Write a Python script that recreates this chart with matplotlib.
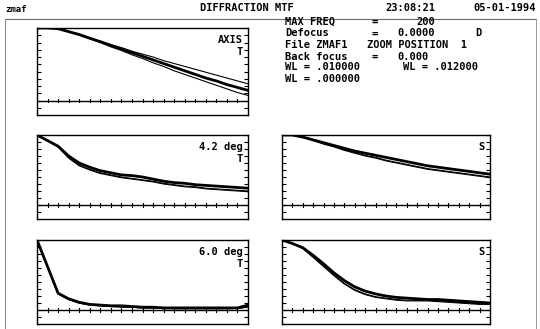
import matplotlib
matplotlib.use("Agg")
import matplotlib.pyplot as plt
import numpy as np

# ---------------- data ----------------
freq = [0, 10, 20, 30, 40, 50, 60, 70, 80, 90, 100, 110, 120, 130, 140, 150, 160, 170, 180, 190, 200]

axis_t_upper = [1.00, 1.00, 0.99, 0.95, 0.91, 0.86, 0.82, 0.77, 0.73, 0.68, 0.64, 0.60, 0.55, 0.51, 0.47, 0.43, 0.39, 0.35, 0.31, 0.27, 0.23]
axis_t_thick = [1.00, 1.00, 0.99, 0.95, 0.91, 0.86, 0.81, 0.76, 0.71, 0.66, 0.61, 0.56, 0.51, 0.46, 0.41, 0.36, 0.31, 0.27, 0.22, 0.18, 0.14]
axis_t_lower = [1.00, 1.00, 0.99, 0.95, 0.90, 0.85, 0.80, 0.74, 0.69, 0.63, 0.58, 0.52, 0.47, 0.41, 0.36, 0.31, 0.26, 0.21, 0.16, 0.11, 0.07]

d42_t_thick = [1.00, 0.92, 0.84, 0.70, 0.60, 0.54, 0.49, 0.46, 0.43, 0.42, 0.40, 0.37, 0.34, 0.32, 0.31, 0.29, 0.28, 0.27, 0.26, 0.25, 0.24]
d42_t_thin1 = [1.00, 0.92, 0.83, 0.68, 0.57, 0.51, 0.46, 0.43, 0.40, 0.38, 0.36, 0.34, 0.31, 0.29, 0.27, 0.26, 0.24, 0.23, 0.22, 0.21, 0.20]
d42_t_thin2 = [1.00, 0.92, 0.83, 0.67, 0.56, 0.50, 0.45, 0.42, 0.39, 0.37, 0.35, 0.33, 0.30, 0.28, 0.26, 0.25, 0.23, 0.22, 0.21, 0.20, 0.19]

d42_s_thick = [1.00, 1.00, 0.97, 0.93, 0.89, 0.85, 0.81, 0.77, 0.74, 0.71, 0.68, 0.65, 0.62, 0.59, 0.56, 0.54, 0.52, 0.50, 0.48, 0.46, 0.44]
d42_s_thin1 = [1.00, 1.00, 0.97, 0.93, 0.88, 0.84, 0.79, 0.75, 0.71, 0.68, 0.64, 0.61, 0.58, 0.55, 0.52, 0.50, 0.48, 0.46, 0.44, 0.42, 0.40]
d42_s_thin2 = [1.00, 1.00, 0.97, 0.92, 0.87, 0.83, 0.78, 0.74, 0.70, 0.67, 0.63, 0.60, 0.57, 0.54, 0.51, 0.49, 0.47, 0.45, 0.43, 0.41, 0.39]

d60_t_thick = [1.00, 0.62, 0.24, 0.16, 0.11, 0.08, 0.07, 0.06, 0.06, 0.05, 0.04, 0.04, 0.03, 0.03, 0.03, 0.03, 0.03, 0.03, 0.03, 0.03, 0.07]
d60_t_thin1 = [1.00, 0.62, 0.23, 0.15, 0.10, 0.08, 0.06, 0.05, 0.05, 0.04, 0.03, 0.03, 0.03, 0.02, 0.02, 0.02, 0.02, 0.02, 0.02, 0.03, 0.05]
d60_t_thin2 = [1.00, 0.62, 0.23, 0.15, 0.10, 0.07, 0.06, 0.05, 0.04, 0.04, 0.03, 0.03, 0.02, 0.02, 0.02, 0.02, 0.02, 0.02, 0.02, 0.02, 0.04]

d60_s_thick = [1.00, 0.95, 0.89, 0.78, 0.66, 0.53, 0.42, 0.33, 0.27, 0.23, 0.20, 0.18, 0.17, 0.16, 0.15, 0.15, 0.14, 0.13, 0.12, 0.11, 0.10]
d60_s_thin1 = [1.00, 0.95, 0.88, 0.76, 0.63, 0.50, 0.38, 0.29, 0.23, 0.19, 0.17, 0.15, 0.14, 0.14, 0.14, 0.13, 0.12, 0.11, 0.10, 0.09, 0.09]
d60_s_thin2 = [1.00, 0.95, 0.88, 0.75, 0.62, 0.49, 0.37, 0.28, 0.22, 0.18, 0.16, 0.14, 0.13, 0.13, 0.13, 0.12, 0.11, 0.10, 0.09, 0.08, 0.08]

header_left = "zmaf"
header_title = "DIFFRACTION MTF"
header_time = "23:08:21"
header_date = "05-01-1994"

# ---------------- figure ----------------
W, H = 540, 329
fig = plt.figure(figsize=(W / 100, H / 100), dpi=100)
fig.patch.set_facecolor("white")

FONT = dict(family="DejaVu Sans Mono", fontweight="bold", fontsize=7.5, color="black")


def px_rect(x0, y0, x1, y1):
    return [x0 / W, 1 - y1 / H, (x1 - x0) / W, (y1 - y0) / H]


# outer frame (overlay axes)
frame = fig.add_axes([0, 0, 1, 1])
frame.set_xlim(0, W)
frame.set_ylim(H, 0)
frame.axis("off")
fc = "#6a6a6a"
frame.plot([5, 536], [18.5, 18.5], color=fc, lw=0.8)
frame.plot([5, 5], [18.5, 329], color="#888888", lw=0.7)
frame.plot([536, 536], [18.5, 329], color="#999999", lw=0.7)

# header texts
frame.text(5, 9, header_left, ha="left", va="center", **{**FONT, "fontsize": 6.5})
frame.text(200, 8, header_title, ha="left", va="center", **FONT)
frame.text(385, 8, header_time, ha="left", va="center", **FONT)
frame.text(536, 8, header_date, ha="right", va="center", **FONT)

# info block
rows_y = [22, 33.5, 45, 56.5, 67.5, 78.5]
frame.text(285, rows_y[0], "MAX FREQ", ha="left", va="center", **FONT)
frame.text(372, rows_y[0], "=", ha="left", va="center", **FONT)
frame.text(416, rows_y[0], "200", ha="left", va="center", **FONT)
frame.text(285, rows_y[1], "Defocus", ha="left", va="center", **FONT)
frame.text(372, rows_y[1], "=", ha="left", va="center", **FONT)
frame.text(397, rows_y[1], "0.0000", ha="left", va="center", **FONT)
frame.text(475, rows_y[1], "D", ha="left", va="center", **FONT)
frame.text(285, rows_y[2], "File ZMAF1", ha="left", va="center", **FONT)
frame.text(367, rows_y[2], "ZOOM POSITION  1", ha="left", va="center", **FONT)
frame.text(285, rows_y[3], "Back focus", ha="left", va="center", **FONT)
frame.text(372, rows_y[3], "=", ha="left", va="center", **FONT)
frame.text(397, rows_y[3], "0.000", ha="left", va="center", **FONT)
frame.text(285, rows_y[4], "WL = .010000", ha="left", va="center", **FONT)
frame.text(403, rows_y[4], "WL = .012000", ha="left", va="center", **FONT)
frame.text(285, rows_y[5], "WL = .000000", ha="left", va="center", **FONT)


def panel(rect, thick, thin1, thin2, labels):
    ax = fig.add_axes(px_rect(*rect))
    ax.set_xlim(0, 200)
    ax.set_ylim(-0.2, 1.0)
    for s in ax.spines.values():
        s.set_linewidth(1.0)
        s.set_color("black")
    ax.set_xticks([])
    ax.set_yticks(np.arange(-0.2, 1.01, 0.1))
    ax.tick_params(axis="y", which="both", direction="in", length=3, width=0.8,
                   left=True, right=True, labelleft=False, labelright=False)
    # zero line with crossing ticks
    ax.axhline(0, color="black", lw=1.0)
    for xv in freq[1:-1]:
        ax.plot([xv, xv], [-0.025, 0.025], color="black", lw=0.8)
    ax.plot(freq, thin2, color="black", lw=0.8)
    ax.plot(freq, thin1, color="black", lw=0.8)
    ax.plot(freq, thick, color="black", lw=2.0)
    for i, lab in enumerate(labels):
        ax.text(0.975, 0.86 - i * 0.14, lab, transform=ax.transAxes, ha="right", va="center", **FONT)
    return ax


panel((37, 28, 248, 115), axis_t_thick, axis_t_upper, axis_t_lower, ["AXIS", "T"])
panel((37, 135, 248, 219), d42_t_thick, d42_t_thin1, d42_t_thin2, ["4.2 deg", "T"])
panel((282, 135, 490, 219), d42_s_thick, d42_s_thin1, d42_s_thin2, ["S"])
panel((37, 240, 248, 324), d60_t_thick, d60_t_thin1, d60_t_thin2, ["6.0 deg", "T"])
panel((282, 240, 490, 324), d60_s_thick, d60_s_thin1, d60_s_thin2, ["S"])

fig.savefig("out.png", dpi=100, facecolor="white")
